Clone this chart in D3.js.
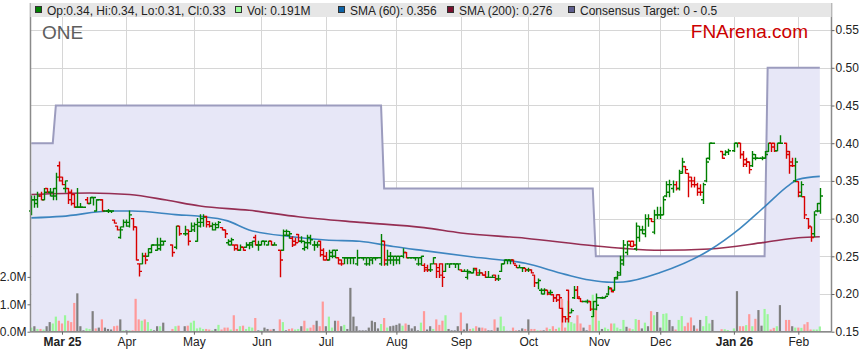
<!DOCTYPE html>
<html><head><meta charset="utf-8">
<script src="https://cdn.jsdelivr.net/npm/d3@7"></script>
<style>body{margin:0;background:#fff;}svg{display:block;font-family:"Liberation Sans",Arial,sans-serif;}</style>
</head><body><svg id="c" width="859" height="363"></svg>
<script>
// ---------------- DATA ----------------
const firstDay = "2025-02-17", lastDay = "2026-02-11";
const holidays = ["2025-04-18","2025-04-21","2025-04-25","2025-06-09","2025-12-25","2025-12-26","2026-01-01","2026-01-26"];

const open = [
.310,.325,.320,.330,.325,.340,.335,.330,.330,.370,
.355,.340,.340,.335,.332,.315,.315,.315,.325,.320,
.328,.310,.325,.325,.310,.310,.310,.298,.290,.275,
.289,.295,.290,.300,.289,.240,.240,.250,.250,.255,
.265,.258,.260,.265,
.265,.262,.290,
.280,.285,.283,.285,.270,.290,.295,.303,.296,.290,
.285,.288,.288,.285,.268,.265,.265,.265,.258,.262,
.262,.265,.265,.275,.265,.265,.270,.265,.270,.265,
.258,.258,.278,.278,.274,.270,.279,.270,.260,
.262,.268,.265,.265,.270,.258,.250,.245,.250,.250,
.248,.245,.248,.248,.248,.248,.240,.248,.248,.240,
.240,.245,.248,.248,.240,.270,.240,.245,.245,.245,
.245,.250,.255,.248,.248,.248,.240,.240,.238,.235,
.232,.240,.240,.235,.240,.230,.240,.240,.240,.240,
.232,.230,.222,.228,.228,.234,.225,.228,.225,.222,
.222,.225,.220,.230,.240,.245,.245,.245,.238,.235,
.235,.234,.232,.232,.225,.215,.205,.200,.205,.202,
.199,.195,.199,.181,.170,.205,.175,.195,.205,.194,
.190,.190,.190,.170,.180,.195,.195,.195,.200,.207,
.205,.222,.225,.240,.255,.270,.270,.260,.275,.285,
.280,.300,.300,.282,.305,.305,.305,.330,.335,.340,
.345,.340,.362,.369,.360,.355,.350,.345,.340,.325,
.350,.380,.400,
.389,.385,.388,
.390,.400,.400,.385,.378,.375,.370,.380,.380,.380,.380,
.389,.400,.400,.390,.400,
.400,.389,.375,.350,.349,.330,.329,.300,.289,.280,.310,.310];

const high = [
.330,.330,.335,.335,.340,.340,.340,.340,.360,.375,
.355,.350,.340,.338,.332,.340,.320,.315,.328,.328,
.328,.325,.325,.325,.310,.312,.310,.298,.290,.289,
.298,.298,.310,.300,.289,.240,.254,.254,.260,.265,
.265,.274,.274,.270,
.265,.290,.290,
.290,.285,.294,.294,.300,.305,.305,.303,.296,.294,
.294,.296,.288,.285,.272,.274,.265,.265,.265,.262,
.268,.268,.270,.278,.270,.270,.270,.270,.270,.268,
.258,.285,.285,.283,.276,.274,.279,.276,.270,
.278,.278,.270,.269,.270,.260,.255,.258,.258,.258,
.248,.245,.248,.248,.248,.248,.258,.248,.248,.248,
.248,.248,.248,.248,.279,.270,.258,.255,.250,.250,
.250,.260,.255,.248,.248,.248,.248,.250,.240,.238,
.240,.248,.240,.240,.240,.240,.240,.240,.240,.240,
.232,.232,.232,.230,.234,.234,.232,.228,.230,.230,
.225,.225,.225,.240,.245,.245,.245,.245,.238,.238,
.235,.234,.234,.232,.225,.220,.207,.207,.205,.205,
.199,.199,.199,.181,.170,.205,.180,.210,.210,.194,
.190,.192,.190,.190,.200,.195,.196,.197,.210,.208,
.222,.230,.250,.271,.270,.270,.270,.294,.290,.290,
.305,.305,.300,.311,.315,.315,.329,.349,.351,.350,
.349,.364,.380,.369,.360,.355,.355,.347,.345,.347,
.380,.400,.400,
.389,.390,.392,
.400,.400,.400,.389,.380,.375,.389,.385,.380,.382,.389,
.400,.400,.400,.400,.410,
.400,.389,.380,.380,.349,.349,.329,.300,.289,.309,.320,.340];

const low = [
.305,.315,.315,.325,.325,.335,.330,.325,.325,.350,
.345,.335,.320,.318,.315,.315,.315,.315,.320,.320,
.318,.310,.325,.310,.310,.308,.308,.294,.285,.274,
.289,.290,.289,.285,.245,.224,.240,.240,.250,.255,
.265,.258,.258,.265,
.250,.260,.278,
.278,.265,.283,.283,.270,.289,.290,.289,.289,.285,
.285,.288,.285,.275,.265,.265,.258,.258,.258,.258,
.262,.260,.262,.265,.258,.265,.265,.265,.265,.265,
.223,.258,.278,.274,.263,.265,.269,.268,.258,
.260,.266,.258,.262,.250,.245,.245,.245,.248,.248,
.240,.238,.240,.240,.240,.240,.238,.248,.245,.238,
.238,.240,.245,.248,.238,.238,.238,.240,.238,.240,
.240,.248,.248,.248,.248,.245,.238,.238,.230,.230,
.230,.240,.222,.222,.210,.230,.235,.240,.235,.232,
.230,.230,.220,.228,.228,.225,.225,.225,.222,.222,
.222,.218,.218,.230,.240,.240,.240,.240,.235,.235,
.230,.230,.230,.228,.210,.207,.200,.200,.199,.199,
.190,.190,.181,.163,.163,.163,.175,.194,.194,.190,
.190,.188,.178,.170,.179,.195,.194,.195,.199,.203,
.205,.220,.225,.238,.252,.263,.263,.258,.270,.280,
.276,.290,.296,.280,.300,.300,.305,.329,.329,.335,
.338,.338,.360,.360,.329,.342,.342,.331,.331,.320,
.349,.378,.400,
.380,.384,.385,
.389,.395,.380,.369,.369,.360,.369,.378,.380,.378,.380,
.389,.389,.389,.390,.400,
.380,.360,.369,.349,.329,.329,.300,.287,.270,.276,.309,.307];

const close = [
.325,.325,.330,.325,.335,.335,.335,.340,.355,.350,
.345,.350,.325,.320,.315,.315,.315,.315,.320,.328,
.328,.325,.325,.310,.310,.310,.310,.294,.285,.285,
.295,.295,.305,.289,.245,.230,.250,.245,.260,.265,
.265,.265,.270,.270,
.255,.290,.280,
.280,.270,.290,.292,.295,.300,.302,.292,.290,.292,
.292,.295,.285,.280,.270,.272,.260,.258,.262,.258,
.265,.268,.270,.265,.265,.270,.270,.270,.265,.265,
.245,.283,.283,.280,.265,.268,.270,.270,.268,
.275,.272,.265,.265,.252,.245,.245,.255,.258,.258,
.240,.240,.248,.248,.248,.248,.248,.248,.248,.248,
.248,.248,.248,.248,.270,.245,.250,.250,.250,.250,
.250,.255,.248,.248,.248,.248,.248,.250,.232,.232,
.232,.248,.230,.225,.222,.240,.240,.240,.240,.240,
.230,.230,.230,.228,.232,.228,.228,.225,.222,.222,
.222,.220,.220,.240,.245,.245,.245,.240,.235,.235,
.235,.232,.232,.228,.215,.218,.205,.205,.200,.202,
.195,.192,.195,.170,.167,.170,.178,.205,.196,.190,
.190,.190,.180,.190,.185,.195,.195,.197,.208,.203,
.220,.228,.245,.265,.265,.263,.265,.290,.285,.285,
.300,.300,.296,.305,.305,.305,.325,.345,.345,.345,
.340,.360,.375,.365,.350,.345,.345,.335,.335,.345,
.375,.400,.400,
.380,.388,.390,
.400,.400,.385,.372,.375,.365,.385,.380,.380,.380,.385,
.400,.395,.390,.400,.400,
.385,.370,.370,.375,.335,.345,.305,.290,.275,.305,.320,.330];

// volume in millions of shares
const volume = [
.15,.20,.10,.10,.08,.20,.35,.30,.55,.40,
.30,.60,.40,.35,1.05,1.40,.20,.05,.12,.10,
.75,.12,.15,.45,.15,.10,.08,.20,.22,.45,
.05,.05,.05,.05,1.20,.45,.40,.45,.35,.10,
.05,.20,.20,.33,
.10,.20,.22,
.20,.22,.33,.40,.12,.15,.10,.10,.08,.05,
.10,.25,.08,.15,.15,.08,.60,.10,.20,.22,
.10,.18,.15,.50,.05,.05,.15,.10,.08,.10,
.45,.35,.05,.10,.12,.08,.10,.20,.40,
.12,.15,.25,.40,.20,1.10,.20,.55,.15,.40,
.40,.20,.25,.10,1.60,.55,.20,.05,.05,.05,
.15,.40,.35,.12,.28,.50,.15,.20,.22,.25,
.30,.22,.30,.25,.12,.20,.05,.33,.75,.08,
.20,.10,.45,.25,.40,.60,.10,.05,.05,.20,
.70,.08,.30,.10,.12,.20,.15,.15,.12,.05,
.05,.45,.15,.55,.20,.03,.03,.15,.05,.05,
.12,.10,.45,.10,.10,.05,.05,.05,.15,.10,
.20,.10,.15,1.20,.15,1.13,.35,.30,.60,.30,
.15,.05,.25,1.35,.80,.40,.10,.15,.10,.30,
.30,.15,.10,.43,.18,.12,.09,.46,.43,.12,
.33,.20,.75,.60,.72,.15,.65,.67,.43,.20,
.08,.43,.57,.20,.33,.52,.23,.11,.43,.20,
.57,.30,.43,
.09,.09,.06,
.12,1.48,.20,.20,.24,.64,.20,.47,.79,.22,.83,
.64,.08,.14,.20,.97,
.43,.43,.20,.15,.15,.14,.27,.35,.08,.08,.08,.191];

const sma60Dates = ["2025-02-17","2025-03-03","2025-03-25","2025-04-03","2025-04-24","2025-05-05","2025-05-16","2025-05-27","2025-06-16","2025-07-01","2025-07-16","2025-07-31","2025-08-14","2025-09-05","2025-09-30","2025-10-17","2025-10-29","2025-11-07","2025-11-13","2025-12-01","2025-12-23","2026-01-06","2026-01-16","2026-01-28","2026-02-02","2026-02-11"];
const sma60 = [.301,.303,.310,.310,.305,.303,.297,.285,.276,.2716,.270,.263,.2575,.249,.2407,.226,.2185,.2155,.216,.2285,.258,.287,.3157,.3445,.352,.356];

const sma200Dates = ["2025-02-17","2025-03-14","2025-04-02","2025-04-18","2025-05-05","2025-05-27","2025-06-18","2025-07-16","2025-08-14","2025-09-01","2025-09-30","2025-10-31","2025-11-13","2025-12-01","2025-12-23","2026-01-16","2026-02-02","2026-02-11"];
const sma200 = [.332,.334,.332,.3246,.3167,.311,.3025,.295,.288,.281,.274,.2636,.2605,.258,.2597,.2685,.2746,.276];

const targetDates = ["2025-02-17","2025-02-26","2025-02-27","2025-07-25","2025-07-28","2025-10-30","2025-10-31","2026-01-16","2026-01-19","2026-02-11"];
const target = [.40,.40,.45,.45,.34,.34,.25,.25,.50,.50];

const priceTicks = [0.15,0.20,0.25,0.30,0.35,0.40,0.45,0.50,0.55];
const volTicks = [0,1,2];
const monthTickLabels = ["Mar 25","Apr","May","Jun","Jul","Aug","Sep","Oct","Nov","Dec","Jan 26","Feb"];

const legendItems = ["Op:0.34, Hi:0.34, Lo:0.31, Cl:0.33","Vol: 0.191M","SMA (60): 0.356","SMA (200): 0.276","Consensus Target: 0 - 0.5"];
const legendColors = ["#008000","#99ff99","#0e64a8","#7a0f2e","#5f5f90"];
const legendX = [35,235,338,447,568];

// ---------------- CHART ----------------
const svg = d3.select("#c");
const fmt = d3.timeFormat("%Y-%m-%d"), parse = d3.timeParse("%Y-%m-%d");
const weekdays = d3.timeDay.range(parse(firstDay), d3.timeDay.offset(parse(lastDay),1))
  .filter(d => d.getDay()!==0 && d.getDay()!==6).map(fmt);
const tradeDays = weekdays.filter(k => !holidays.includes(k));

const L = 30.5, R = 831.5, T = 17, B = 331.7;
const x = d3.scalePoint().domain(weekdays).range([31.3, 819.8]);
const y = d3.scaleLinear().domain([0.15,0.55]).range([B, 30.1]);
const yv = d3.scaleLinear().domain([0,1]).range([B, 304.3]);

const bars = tradeDays.map((d,i)=>({d, o:open[i], h:high[i], l:low[i], c:close[i], v:volume[i],
  prev: i>0 ? close[i-1] : open[i]}));

// first trading day of each month (x-axis ticks)
const firstOfMonth = [];
let lastM = null;
tradeDays.forEach(d=>{ const m=d.slice(0,7); if(m!==lastM){ firstOfMonth.push(d); lastM=m; } });
const monthTicks = firstOfMonth.slice(1); // skip partial Feb 2025

// grid
const g = svg.append("g");
g.selectAll(".hg").data(priceTicks).join("line")
  .attr("x1",L).attr("x2",R).attr("y1",d=>Math.round(y(d))+0.5).attr("y2",d=>Math.round(y(d))+0.5)
  .attr("stroke","#d6d6d6");
g.selectAll(".vg").data(monthTicks).join("line")
  .attr("x1",d=>Math.round(x(d))+0.5).attr("x2",d=>Math.round(x(d))+0.5).attr("y1",T).attr("y2",B)
  .attr("stroke","#d6d6d6");

// consensus target area
const tgt = targetDates.map((d,i)=>({d, v:target[i]}));
svg.append("path").datum(tgt)
  .attr("d", d3.area().x(d=>x(d.d)).y0(B).y1(d=>y(d.v)))
  .attr("fill","#e7e7f7");
svg.append("path").datum(tgt)
  .attr("d", d3.line().x(d=>x(d.d)).y(d=>y(d.v)))
  .attr("fill","none").attr("stroke","#9c9cbe").attr("stroke-width",2);

// volume
svg.append("g").selectAll("rect").data(bars).join("rect")
  .attr("x",d=>x(d.d)-1.1).attr("width",2.2)
  .attr("y",d=>yv(d.v)).attr("height",d=>B-yv(d.v))
  .attr("fill",d=> d.c>d.prev ? "#99f799" : d.c<d.prev ? "#ff9999" : "#808080");

// SMA lines
const s200 = sma200Dates.map((d,i)=>({d, v:sma200[i]}));
const s60 = sma60Dates.map((d,i)=>({d, v:sma60[i]}));
const smaLine = d3.line().x(d=>x(d.d)).y(d=>y(d.v)).curve(d3.curveMonotoneX);
svg.append("path").datum(s200).attr("d",smaLine).attr("fill","none").attr("stroke","#8c1a40").attr("stroke-width",1.6).attr("stroke-opacity",0.9);
svg.append("path").datum(s60).attr("d",smaLine).attr("fill","none").attr("stroke","#2a7ab9").attr("stroke-width",1.6).attr("stroke-opacity",0.9);

// OHLC bars
svg.append("g").selectAll("path").data(bars).join("path")
  .attr("d",d=>{ const cx=Math.round(x(d.d))+0.5;
    return `M${cx},${y(d.h)-0.5}V${y(d.l)+0.5}M${cx-2.5},${y(d.o)}H${cx}M${cx},${y(d.c)}H${cx+2.5}`; })
  .attr("fill","none").attr("stroke-width",1.4)
  .attr("stroke",d=> d.c>=d.o ? "#008000" : "#d80000");

// axes lines
svg.append("line").attr("x1",L).attr("x2",L).attr("y1",3).attr("y2",B).attr("stroke","#8a8a8a").attr("stroke-width",1.5);
svg.append("line").attr("x1",R).attr("x2",R).attr("y1",3).attr("y2",B).attr("stroke","#8a8a8a").attr("stroke-width",1.5);
svg.append("line").attr("x1",L).attr("x2",R).attr("y1",B).attr("y2",B).attr("stroke","#8a8a8a").attr("stroke-width",1.5);

// right price axis
const ra = svg.append("g").attr("transform",`translate(${R},0)`)
  .call(d3.axisRight(y).tickValues(priceTicks).tickFormat(d3.format(".2f")).tickSize(3).tickPadding(1));
// left volume axis
const la = svg.append("g").attr("transform",`translate(${L},0)`)
  .call(d3.axisLeft(yv).tickValues(volTicks).tickFormat(d=>d.toFixed(1)+"M").tickSize(3).tickPadding(1));
// bottom time axis
const ba = svg.append("g").attr("transform",`translate(0,${B})`)
  .call(d3.axisBottom(x).tickValues(monthTicks).tickFormat((d,i)=>monthTickLabels[i]).tickSize(3).tickPadding(3));
[ra,la,ba].forEach(a=>{
  a.select(".domain").remove();
  a.selectAll(".tick line").attr("stroke","#666");
  a.selectAll("text").attr("font-size","12px").attr("fill","#222").attr("font-family","Liberation Sans, Arial, sans-serif");
});
ba.selectAll("text").attr("font-weight",(d,i)=>/\d/.test(monthTickLabels[i])?"bold":"normal");

// legend band
svg.append("rect").attr("x",L).attr("y",3).attr("width",R-L).attr("height",14).attr("fill","#e6e6e6");
const lg = svg.append("g").selectAll("g").data(legendItems).join("g");
lg.append("rect").attr("x",(d,i)=>legendX[i]+0.5).attr("y",6.5).attr("width",6).attr("height",6)
  .attr("fill",(d,i)=>legendColors[i]).attr("stroke","#333").attr("stroke-width",1);
lg.append("text").attr("x",(d,i)=>legendX[i]+12).attr("y",14.5).attr("font-size","12px").attr("fill","#222").text(d=>d);

// titles
svg.append("text").attr("x",42).attr("y",39).attr("font-size","19px").attr("fill","#5e5e5e").text("ONE");
svg.append("text").attr("x",808).attr("y",37.5).attr("text-anchor","end").attr("font-size","19px").attr("fill","#cc0000").text("FNArena.com");
</script></body></html>
